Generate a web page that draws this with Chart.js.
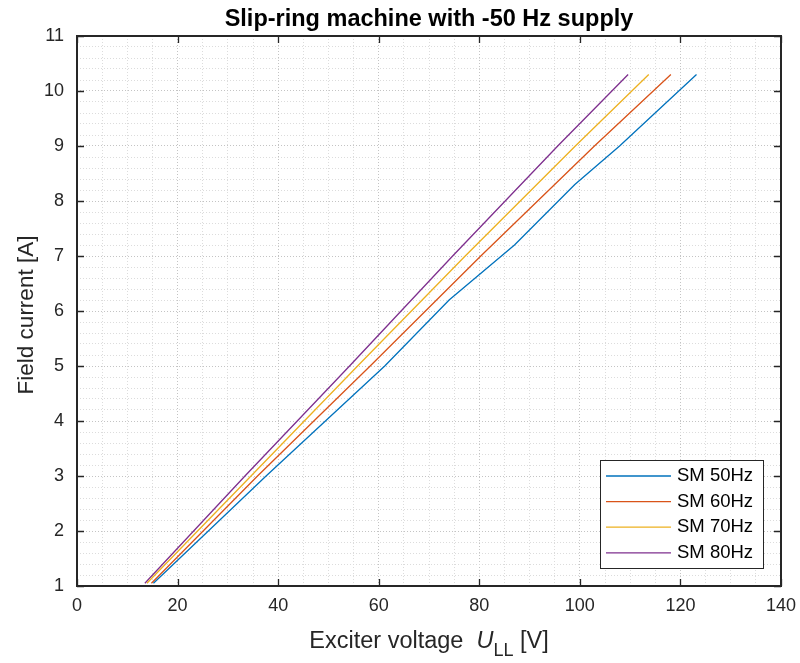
<!DOCTYPE html>
<html>
<head>
<meta charset="utf-8">
<script src="https://cdn.jsdelivr.net/npm/chart.js@4.4.1/dist/chart.umd.min.js"></script>
<style>
  html, body { margin: 0; padding: 0; background: #fff; }
</style>
</head>
<body>
<canvas id="chart" width="800" height="663"></canvas>
<script>
// data (field current [A] vs exciter voltage [V])
const seriesLabels = ['SM 50Hz', 'SM 60Hz', 'SM 70Hz', 'SM 80Hz'];
const current50 = [1.05, 3, 5, 6.2, 7.2, 8.3, 9, 10.3];
const voltage50 = [15.2, 37.6, 61.2, 74, 87, 99, 107.9, 123.2];
const current60 = [1.05, 3, 5, 7, 9, 10.3];
const voltage60 = [14.8, 35.9, 58.3, 80.3, 102.9, 118.1];
const current70 = [1.05, 3, 5, 7, 9, 10.3];
const voltage70 = [13.9, 34.6, 55.8, 77.2, 99.1, 113.7];
const current80 = [1.05, 3, 5, 7, 9, 10.3];
const voltage80 = [13.5, 33.4, 54.2, 74.7, 95.6, 109.6];

const xMajor = [0, 20, 40, 60, 80, 100, 120, 140];
const yMajor = [1, 2, 3, 4, 5, 6, 7, 8, 9, 10, 11];
const xMinorStep = 5;
const yMinorStep = 0.2;

const colors = ['#0072BD', '#D95319', '#EDB120', '#7E2F8E'];
const ink = '#262626';
const family = "'Liberation Sans', Arial, Helvetica, sans-serif";

const toPoints = (xs, ys) => xs.map((x, i) => ({ x: x, y: ys[i] }));
const allSeries = [
  toPoints(voltage50, current50),
  toPoints(voltage60, current60),
  toPoints(voltage70, current70),
  toPoints(voltage80, current80),
];

const minorTicks = (min, max, step) => {
  const out = [];
  const n = Math.round((max - min) / step);
  for (let i = 0; i <= n; i++) out.push(Math.round((min + i * step) * 1000) / 1000);
  return out;
};
const isMajor = (v, list) => list.some(m => Math.abs(m - v) < 1e-6);

const gridColor = list => ctx => (ctx.tick && isMajor(ctx.tick.value, list) ? '#c4c4c4' : '#dcdcdc');

// box, inward ticks, titles and legend, drawn on top like MATLAB does
const frame = {
  id: 'frame',
  afterDraw(chart) {
    const { ctx, chartArea: a, scales } = chart;
    ctx.save();

    // inward tick marks on all four sides
    ctx.strokeStyle = ink;
    ctx.lineWidth = 1.3;
    ctx.beginPath();
    xMajor.forEach(v => {
      const px = Math.round(scales.x.getPixelForValue(v)) + 0.5;
      ctx.moveTo(px, a.bottom); ctx.lineTo(px, a.bottom - 7);
      ctx.moveTo(px, a.top); ctx.lineTo(px, a.top + 7);
    });
    yMajor.forEach(v => {
      const py = Math.round(scales.y.getPixelForValue(v)) + 0.5;
      ctx.moveTo(a.left, py); ctx.lineTo(a.left + 7, py);
      ctx.moveTo(a.right, py); ctx.lineTo(a.right - 7, py);
    });
    ctx.stroke();
    ctx.lineWidth = 2;
    ctx.strokeRect(a.left, a.top, a.right - a.left, a.bottom - a.top);

    // title
    ctx.fillStyle = '#000';
    ctx.font = 'bold 23.5px ' + family;
    ctx.textAlign = 'center';
    ctx.textBaseline = 'alphabetic';
    ctx.fillText('Slip-ring machine with -50 Hz supply', (a.left + a.right) / 2, 26);

    // y axis title
    ctx.fillStyle = ink;
    ctx.font = '22.5px ' + family;
    ctx.save();
    ctx.translate(27, 315);
    ctx.rotate(-Math.PI / 2);
    ctx.textBaseline = 'middle';
    ctx.fillText('Field current [A]', 0, 0);
    ctx.restore();

    // x axis title with italic U and subscript LL
    const parts = [
      { t: 'Exciter voltage  ', f: '23.5px ' + family, dy: 0 },
      { t: 'U', f: 'italic 23.5px ' + family, dy: 0 },
      { t: 'LL', f: '18px ' + family, dy: 8 },
      { t: ' [V]', f: '23.5px ' + family, dy: 0 },
    ];
    let total = 0;
    parts.forEach(p => { ctx.font = p.f; p.w = ctx.measureText(p.t).width; total += p.w; });
    let x = (a.left + a.right) / 2 - total / 2;
    ctx.textAlign = 'left';
    ctx.textBaseline = 'alphabetic';
    parts.forEach(p => { ctx.font = p.f; ctx.fillText(p.t, x, 648 + p.dy); x += p.w; });

    // legend
    const lx = 600, ly = 460, lw = 163, lh = 108;
    ctx.fillStyle = '#fff';
    ctx.fillRect(lx, ly, lw, lh);
    ctx.strokeStyle = ink;
    ctx.lineWidth = 1;
    ctx.strokeRect(lx + 0.5, ly + 0.5, lw, lh);
    ctx.font = '18.5px ' + family;
    ctx.textBaseline = 'middle';
    chart.data.datasets.forEach((ds, i) => {
      const ry = ly + 16 + i * 25.6;
      ctx.strokeStyle = ds.borderColor;
      ctx.lineWidth = 1.3;
      ctx.beginPath();
      ctx.moveTo(lx + 6, ry); ctx.lineTo(lx + 71, ry);
      ctx.stroke();
      ctx.fillStyle = '#000';
      ctx.fillText(ds.label, lx + 77, ry);
    });

    ctx.restore();
  },
};

new Chart(document.getElementById('chart'), {
  type: 'scatter',
  data: {
    datasets: allSeries.map((pts, i) => ({
      label: seriesLabels[i],
      data: pts,
      showLine: true,
      borderColor: colors[i],
      backgroundColor: colors[i],
      borderWidth: 1.3,
      pointRadius: 0,
      fill: false,
      tension: 0,
    })),
  },
  options: {
    responsive: false,
    animation: false,
    layout: { padding: { top: 36, right: 19, left: 0, bottom: 0 } },
    plugins: {
      legend: { display: false },
      tooltip: { enabled: false },
      title: { display: false },
    },
    scales: {
      x: {
        type: 'linear',
        min: 0,
        max: 140,
        afterBuildTicks: s => { s.ticks = minorTicks(0, 140, xMinorStep).map(v => ({ value: v })); },
        afterFit: s => { s.height = 77; s.paddingLeft = 0; s.paddingRight = 0; },
        ticks: {
          autoSkip: false,
          maxRotation: 0,
          padding: 9,
          color: ink,
          font: { family: family, size: 18 },
          callback: v => (isMajor(v, xMajor) ? String(v) : ''),
        },
        grid: { color: gridColor(xMajor), lineWidth: 1, drawTicks: false, borderDash: [1, 2] },
        border: { display: false, dash: [1, 2] },
      },
      y: {
        type: 'linear',
        min: 1,
        max: 11,
        afterBuildTicks: s => { s.ticks = minorTicks(1, 11, yMinorStep).map(v => ({ value: v })); },
        afterFit: s => { s.width = 77; s.paddingTop = 0; s.paddingBottom = 0; },
        ticks: {
          autoSkip: false,
          padding: 13,
          color: ink,
          font: { family: family, size: 18 },
          callback: v => (isMajor(v, yMajor) ? String(Math.round(v)) : ''),
        },
        grid: { color: gridColor(yMajor), lineWidth: 1, drawTicks: false, borderDash: [1, 2] },
        border: { display: false, dash: [1, 2] },
      },
    },
  },
  plugins: [frame],
});
</script>
</body>
</html>
